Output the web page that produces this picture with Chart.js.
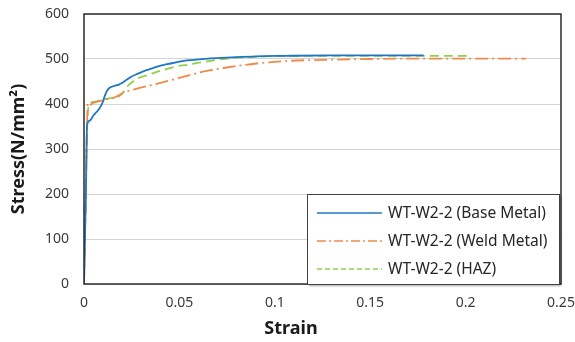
<!DOCTYPE html>
<html>
<head>
<meta charset="utf-8">
<script src="https://cdn.jsdelivr.net/npm/chart.js@4"></script>
<style>
  html, body { margin: 0; padding: 0; background: #ffffff; }
  #c { display: block; }
</style>
</head>
<body>
<canvas id="c" width="575" height="342"></canvas>
<script>
// ---- Data ----
const seriesNames = ['WT-W2-2 (Base Metal)', 'WT-W2-2 (Weld Metal)', 'WT-W2-2 (HAZ)'];

const baseStrain = [0, 0.0005, 0.001, 0.0016, 0.003, 0.005, 0.0079, 0.0096, 0.0108, 0.0119, 0.0131, 0.0157, 0.0183, 0.0201, 0.0218, 0.0245, 0.028, 0.0314, 0.0349, 0.0384, 0.0419, 0.0454, 0.0489, 0.0524, 0.0577, 0.065, 0.075, 0.09, 0.105, 0.13, 0.155, 0.178];
const baseStress = [0, 100, 200, 353, 363, 375, 389, 402, 417, 428, 435, 440, 443, 447, 452, 460, 467, 473, 478, 483, 487, 490, 493, 496, 498, 501, 503, 506, 507, 508, 508, 508];

const weldStrain = [0, 0.0005, 0.001, 0.0015, 0.002, 0.003, 0.005, 0.007, 0.0105, 0.0157, 0.021, 0.026, 0.0314, 0.0367, 0.0419, 0.0472, 0.0524, 0.0577, 0.065, 0.073, 0.0905, 0.108, 0.125, 0.15, 0.18, 0.21, 0.2315];
const weldStress = [0, 110, 220, 330, 402, 398, 403, 405, 409, 414, 426, 432, 438, 443, 449, 455, 461, 467, 474, 480, 490, 496, 498, 500, 501, 501, 501];

const hazStrain = [0, 0.0005, 0.001, 0.0015, 0.0026, 0.0052, 0.0087, 0.014, 0.0183, 0.021, 0.0227, 0.0253, 0.0288, 0.034, 0.0384, 0.0437, 0.0489, 0.0541, 0.0577, 0.065, 0.073, 0.0905, 0.11, 0.14, 0.17, 0.2027];
const hazStress = [0, 105, 215, 330, 398, 405, 409, 413, 417, 428, 439, 449, 458, 465, 472, 478, 484, 487, 490, 495, 500, 505, 507, 507, 507, 507];

const xTickLabels = ['0', '0.05', '0.1', '0.15', '0.2', '0.25'];
const yTickLabels = ['0', '100', '200', '300', '400', '500', '600'];
const xTitle = 'Strain';
const yTitle = 'Stress(N/mm\u00B2)';

// ---- Styles ----
const colors = ['#1f77c4', '#f08a4b', '#92d050'];
const plotDash = [[], [13, 4, 2, 4], [9, 5]];
const legendDash = [[], [9, 3, 2, 3], [5, 3]];

function pts(xs, ys) { return xs.map((x, i) => ({ x: x, y: ys[i] })); }

const datasets = [
  { label: seriesNames[0], data: pts(baseStrain, baseStress) },
  { label: seriesNames[1], data: pts(weldStrain, weldStress) },
  { label: seriesNames[2], data: pts(hazStrain, hazStress) }
].map((d, i) => Object.assign(d, {
  showLine: true,
  borderColor: colors[i],
  backgroundColor: colors[i],
  borderWidth: 1.8,
  borderDash: plotDash[i],
  pointRadius: 0,
  pointHoverRadius: 0,
  cubicInterpolationMode: 'monotone',
  fill: false
}));

const framePlugin = {
  id: 'frameAndLegend',
  afterDraw(chart) {
    const ctx = chart.ctx;
    const a = chart.chartArea;
    ctx.save();
    // plot box
    ctx.strokeStyle = '#2b2b2b';
    ctx.lineWidth = 1.5;
    ctx.setLineDash([]);
    ctx.strokeRect(a.left, a.top, a.right - a.left, a.bottom - a.top);

    // legend box
    const bx = 307, by = 194, bw = 252, bh = a.bottom - 194;
    ctx.shadowColor = 'rgba(0,0,0,0.35)';
    ctx.shadowOffsetX = 1.5;
    ctx.shadowOffsetY = 1.5;
    ctx.shadowBlur = 2;
    ctx.fillStyle = '#ffffff';
    ctx.fillRect(bx, by, bw, bh);
    ctx.shadowColor = 'rgba(0,0,0,0)';
    ctx.strokeStyle = '#404040';
    ctx.lineWidth = 1;
    ctx.strokeRect(bx + 0.5, by + 0.5, bw, bh);

    const rows = [213, 241, 269];
    ctx.font = '15.5px "Noto Sans", sans-serif';
    ctx.textBaseline = 'middle';
    ctx.textAlign = 'left';
    seriesNames.forEach((name, i) => {
      ctx.beginPath();
      ctx.strokeStyle = colors[i];
      ctx.lineWidth = 1.5;
      ctx.setLineDash(legendDash[i]);
      ctx.moveTo(317, rows[i]);
      ctx.lineTo(382, rows[i]);
      ctx.stroke();
      ctx.setLineDash([]);
      ctx.fillStyle = '#262626';
      ctx.fillText(name, 388, rows[i] + 0.5);
    });

    // x axis title
    ctx.font = 'bold 18px "Noto Sans", sans-serif';
    ctx.fillStyle = '#1a1a1a';
    ctx.textAlign = 'center';
    ctx.textBaseline = 'middle';
    ctx.fillText(xTitle, 291, 329);
    ctx.restore();
  }
};

new Chart(document.getElementById('c'), {
  type: 'scatter',
  data: { datasets: datasets },
  options: {
    responsive: false,
    devicePixelRatio: 1,
    animation: false,
    layout: { padding: { top: 14, right: 14, left: 0, bottom: 0 } },
    plugins: { legend: { display: false }, tooltip: { enabled: false } },
    scales: {
      x: {
        type: 'linear', min: 0, max: 0.25,
        ticks: {
          stepSize: 0.05,
          font: { family: '"Noto Sans", sans-serif', size: 14 },
          color: '#3a3a3a',
          padding: 11,
          maxRotation: 0,
          callback: (v, i) => xTickLabels[i]
        },
        grid: { display: false, drawTicks: false },
        border: { display: false },
        afterFit: s => { s.height = 58; s.paddingLeft = 0; s.paddingRight = 0; }
      },
      y: {
        type: 'linear', min: 0, max: 600,
        ticks: {
          stepSize: 100,
          font: { family: '"Noto Sans", sans-serif', size: 14 },
          color: '#3a3a3a',
          padding: 15,
          callback: (v, i) => yTickLabels[i]
        },
        grid: { color: '#d4d4d4', lineWidth: 1, drawTicks: false },
        border: { display: false },
        title: {
          display: true,
          text: yTitle,
          font: { family: '"Noto Sans", sans-serif', size: 18, weight: 'bold' },
          color: '#1a1a1a',
          padding: { top: 8, bottom: 0 }
        },
        afterFit: s => { s.width = 84; s.paddingTop = 0; s.paddingBottom = 0; }
      }
    }
  },
  plugins: [framePlugin]
});
</script>
</body>
</html>
